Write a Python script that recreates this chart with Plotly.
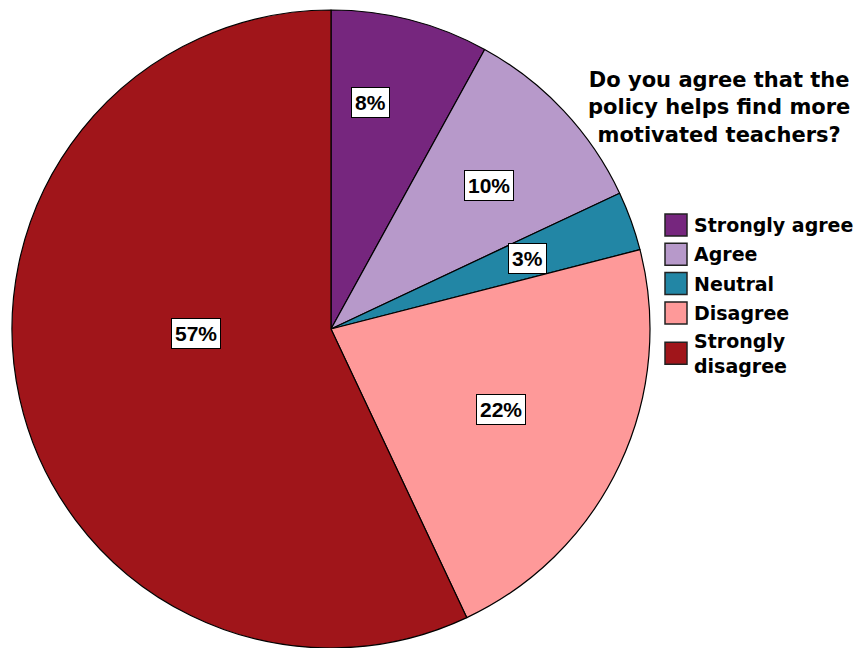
import math
import plotly.graph_objects as go

# Survey responses (percent of respondents)
categories = ["Strongly agree", "Agree", "Neutral", "Disagree", "Strongly disagree"]
legend_labels = ["Strongly agree", "Agree", "Neutral", "Disagree", "Strongly<br>disagree"]
percentages = [8, 10, 3, 22, 57]
colors = ["#76267E", "#B799CA", "#2286A5", "#FE9999", "#A0151A"]
question = "Do you agree that the<br>policy helps find more<br>motivated teachers?"

W, H = 857, 648

# pie placement in pixels
pie_left, pie_right, pie_top, pie_bottom = 12, 650, 10, 648
cx = (pie_left + pie_right) / 2
cy = (pie_top + pie_bottom) / 2
radius = (pie_right - pie_left) / 2

# where each percentage box sits: fraction of radius and angular nudge (deg)
label_radius = [0.72, 0.67, 0.655, 0.59, 0.425]
label_nudge = [-4.5, 1.0, 0.0, 0.0, 10.5]


def px(x):
    return x / W


def py(y):
    return 1 - y / H


fig = go.Figure(
    go.Pie(
        labels=categories,
        values=percentages,
        sort=False,
        direction="clockwise",
        rotation=0,
        marker=dict(colors=colors, line=dict(color="#000000", width=1.2)),
        textinfo="none",
        hoverinfo="label+percent",
        showlegend=False,
        domain=dict(x=[px(pie_left), px(pie_right)], y=[py(pie_bottom), py(pie_top)]),
    )
)

annotations = []

# percentage boxes placed from the cumulative slice angles
total = sum(percentages)
cum = 0
for val, f, nudge in zip(percentages, label_radius, label_nudge):
    mid = (cum + val / 2) / total * 360 + nudge
    cum += val
    a = math.radians(mid)
    lx = cx + f * radius * math.sin(a)
    ly = cy - f * radius * math.cos(a)
    annotations.append(
        dict(
            x=px(lx), y=py(ly), xref="paper", yref="paper",
            text=f"<b>{val}%</b>", showarrow=False,
            font=dict(family="Liberation Sans, Arial, sans-serif", size=21, color="#000000"),
            bgcolor="#FFFFFF", bordercolor="#000000", borderwidth=1, borderpad=3,
            xanchor="center", yanchor="middle",
        )
    )

# question heading
annotations.append(
    dict(
        x=px(719), y=py(108), xref="paper", yref="paper",
        text=f"<b>{question}</b>", showarrow=False, align="center",
        font=dict(family="DejaVu Sans, sans-serif", size=21, color="#000000"),
        xanchor="center", yanchor="middle",
    )
)

# legend: swatches and labels
shapes = []
row0, step, sw = 225, 29.3, 22
sw_left, text_left = 665, 692
for i, (lab, col) in enumerate(zip(legend_labels, colors)):
    lines = lab.count("<br>") + 1
    yc = row0 + i * step + (lines - 1) * 11
    shapes.append(
        dict(
            type="rect", xref="paper", yref="paper",
            x0=px(sw_left), x1=px(sw_left + sw),
            y0=py(yc - sw / 2), y1=py(yc + sw / 2),
            fillcolor=col, line=dict(color="#222222", width=1.5),
        )
    )
    annotations.append(
        dict(
            x=px(text_left), y=py(yc), xref="paper", yref="paper",
            text=f"<b>{lab}</b>", showarrow=False, align="left",
            font=dict(family="DejaVu Sans, sans-serif", size=19, color="#000000"),
            xanchor="left", yanchor="middle",
        )
    )

fig.update_layout(
    width=W, height=H,
    margin=dict(l=0, r=0, t=0, b=0),
    paper_bgcolor="#FFFFFF", plot_bgcolor="#FFFFFF",
    annotations=annotations, shapes=shapes,
)

fig.write_html("out.html")
